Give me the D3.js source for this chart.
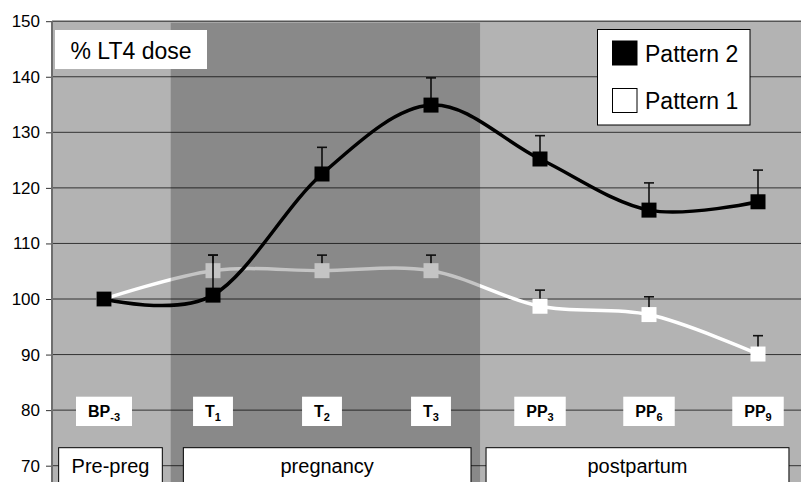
<!DOCTYPE html>
<html>
<head>
<meta charset="utf-8">
<script src="https://cdn.jsdelivr.net/npm/d3@7"></script>
<style>
  body { margin: 0; background: #fff; }
  svg { display: block; font-family: "Liberation Sans", Arial, sans-serif; }
</style>
</head>
<body>
<svg id="chart" width="801" height="482"></svg>
<script>
// time points (label + subscript)
const categories = ['BP', 'T', 'T', 'T', 'PP', 'PP', 'PP'];
const categorySubs = ['-3', '1', '2', '3', '3', '6', '9'];

// % LT4 dose, mean and upper error
const pattern2 = [100, 100.7, 122.5, 134.9, 125.2, 116.0, 117.5];
const pattern2Err = [0, 7.2, 4.8, 4.9, 4.2, 4.9, 5.7];
const pattern1 = [100, 105.1, 105.1, 105.1, 98.7, 97.2, 90.1];
const pattern1Err = [0, 2.8, 2.8, 2.8, 2.9, 3.2, 3.3];

const yTicks = [70, 80, 90, 100, 110, 120, 130, 140, 150];

// phases, in category-index units
const periods = ['Pre-preg', 'pregnancy', 'postpartum'];
const periodFrom = [-0.416, 0.728, 3.505];
const periodTo = [0.535, 3.367, 6.284];

const width = 801, height = 482;
const plotLeft = 52, plotRight = 801;

const svg = d3.select('#chart');

const x = d3.scaleLinear().domain([0, categories.length - 1]).range([104, 758]);
const y = d3.scaleLinear().domain([70, 150]).range([465.7, 21.2]);

// plot background
svg.append('rect')
  .attr('x', plotLeft).attr('y', y(150))
  .attr('width', plotRight - plotLeft).attr('height', height - y(150))
  .attr('fill', '#b3b3b3');

// grid lines
svg.append('g')
  .selectAll('line')
  .data(yTicks)
  .enter().append('line')
  .attr('x1', plotLeft).attr('x2', plotRight)
  .attr('y1', d => y(d)).attr('y2', d => y(d))
  .attr('stroke', d => d === 150 ? '#555' : '#333')
  .attr('stroke-width', d => d === 150 ? 1.5 : 1);

// y axis
const yAxis = svg.append('g')
  .attr('transform', `translate(${plotLeft},0)`)
  .call(d3.axisLeft(y).tickValues(yTicks).tickSize(6).tickPadding(6));
yAxis.select('.domain').remove();
yAxis.selectAll('.tick line').attr('stroke', '#333');
yAxis.selectAll('.tick text')
  .attr('font-size', 17)
  .attr('font-family', '"Liberation Sans", Arial, sans-serif')
  .attr('fill', '#000');
svg.append('line')
  .attr('x1', plotLeft).attr('x2', plotLeft)
  .attr('y1', y(150)).attr('y2', height)
  .attr('stroke', '#6e6e6e').attr('stroke-width', 2);

const line = d3.line()
  .x((d, i) => x(i))
  .y(d => y(d))
  .curve(d3.curveCardinal.tension(0));

function drawSeries(values, errs, fill) {
  const g = svg.append('g');
  g.append('path')
    .datum(values)
    .attr('d', line)
    .attr('fill', 'none')
    .attr('stroke', fill)
    .attr('stroke-width', 3.5);
  const bars = g.selectAll('g.err')
    .data(values.map((v, i) => ({ v, e: errs[i], i })).filter(d => d.e > 0))
    .enter().append('g');
  bars.append('line')
    .attr('x1', d => x(d.i)).attr('x2', d => x(d.i))
    .attr('y1', d => y(d.v)).attr('y2', d => y(d.v + d.e))
    .attr('stroke', '#111').attr('stroke-width', 1.6);
  bars.append('line')
    .attr('x1', d => x(d.i) - 5).attr('x2', d => x(d.i) + 5)
    .attr('y1', d => y(d.v + d.e)).attr('y2', d => y(d.v + d.e))
    .attr('stroke', '#111').attr('stroke-width', 1.6);
  g.selectAll('rect')
    .data(values)
    .enter().append('rect')
    .attr('x', (d, i) => x(i) - 7.5)
    .attr('y', d => y(d) - 7.5)
    .attr('width', 15).attr('height', 15)
    .attr('fill', fill);
}

drawSeries(pattern1, pattern1Err, '#ffffff');
drawSeries(pattern2, pattern2Err, '#000000');

// pregnancy shading (drawn over the series)
svg.append('rect')
  .attr('x', x(0.612)).attr('y', y(150) + 1.5)
  .attr('width', x(3.45) - x(0.612)).attr('height', height)
  .attr('fill', '#000').attr('fill-opacity', 0.23);

// category label boxes
const catG = svg.append('g').selectAll('g')
  .data(categories)
  .enter().append('g')
  .attr('transform', (d, i) => `translate(${x(i)},0)`);
const catRect = catG.append('rect').attr('fill', '#fff');
const catText = catG.append('text')
  .attr('y', 417)
  .attr('font-size', 16)
  .attr('font-weight', 'bold')
  .attr('text-anchor', 'middle');
catText.append('tspan').text(d => d);
catText.append('tspan')
  .attr('font-size', 11)
  .attr('dy', 3.5)
  .text((d, i) => categorySubs[i]);
catG.each(function () {
  const t = d3.select(this).select('text').node().getBBox();
  d3.select(this).select('rect')
    .attr('x', -(t.width / 2) - 12).attr('width', t.width + 24)
    .attr('y', 396.7).attr('height', 29.3);
});

// period boxes
const perG = svg.append('g').selectAll('g')
  .data(periods)
  .enter().append('g');
perG.append('rect')
  .attr('x', (d, i) => x(periodFrom[i]))
  .attr('width', (d, i) => x(periodTo[i]) - x(periodFrom[i]))
  .attr('y', 447.7).attr('height', 50)
  .attr('fill', '#fff').attr('stroke', '#000').attr('stroke-width', 1);
perG.append('text')
  .attr('x', (d, i) => (x(periodFrom[i]) + x(periodTo[i])) / 2)
  .attr('y', 472.5)
  .attr('text-anchor', 'middle')
  .attr('font-size', 20)
  .text(d => d);

// title box
svg.append('rect')
  .attr('x', 55).attr('y', 30).attr('width', 152).attr('height', 39)
  .attr('fill', '#fff');
svg.append('text')
  .attr('x', 131).attr('y', 58.5)
  .attr('text-anchor', 'middle')
  .attr('font-size', 23)
  .text('% LT4 dose');

// legend
const legendItems = ['Pattern 2', 'Pattern 1'];
const legendFill = ['#000', '#fff'];
const legend = svg.append('g').attr('transform', 'translate(597.5,29.5)');
legend.append('rect')
  .attr('width', 152.5).attr('height', 95.5)
  .attr('fill', '#fff').attr('stroke', '#000').attr('stroke-width', 1);
const li = legend.selectAll('g.item')
  .data(legendItems)
  .enter().append('g')
  .attr('transform', (d, i) => `translate(0,${i * 47.5})`);
li.append('rect')
  .attr('x', 15).attr('y', 11.5).attr('width', 24.5).attr('height', 24)
  .attr('fill', (d, i) => legendFill[i])
  .attr('stroke', '#000').attr('stroke-width', 1);
li.append('text')
  .attr('x', 47.5).attr('y', 32)
  .attr('font-size', 23)
  .text(d => d);
</script>
</body>
</html>
